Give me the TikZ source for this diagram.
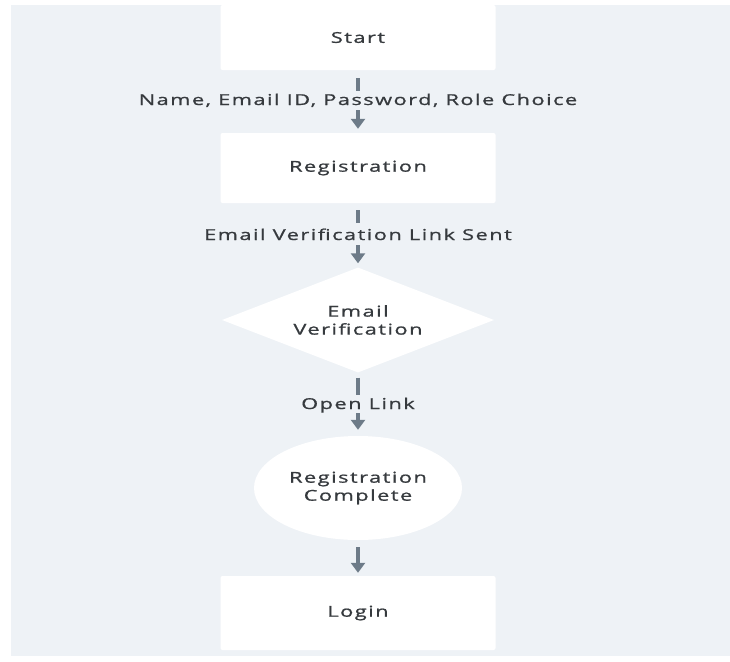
\documentclass[tikz,border=0pt]{standalone}
\usepackage{fontspec}
\setmainfont{Open Sans}[LetterSpace=10, FakeStretch=1.45, FakeBold=1]
\usetikzlibrary{shapes.geometric,arrows.meta}
\definecolor{bg}{HTML}{EEF2F6}
\definecolor{arr}{HTML}{6D7B88}
\definecolor{txt}{HTML}{363A3E}
\begin{document}
\begin{tikzpicture}[x=1pt,y=-1pt,
  every node/.style={text=txt, font=\fontsize{15}{18}\selectfont, align=center},
  box/.style={fill=white, minimum width=275pt, inner sep=0pt, rounded corners=2pt},
  lbl/.style={inner sep=0pt, text height=10pt, text depth=3pt, anchor=base},
  conn/.style={draw=arr, line width=4pt},
  arrow/.style={conn, -{Triangle[length=10pt,width=14pt]}}]
\fill[white] (0,0) rectangle (730,661);
\fill[bg] (11,5) rectangle (730,656);
\useasboundingbox (0,0) rectangle (730,661);

\node[box, minimum height=65pt] (start) at (358,37.5) {Start};
\node[lbl] (lab1) at (358,105) {Name, Email ID, Password, Role Choice};
\node[box, minimum height=70pt] (reg) at (358,168) {Registration};
\node[lbl] (lab2) at (358,240) {Email Verification Link Sent};
\node[diamond, fill=white, minimum width=272pt, minimum height=105pt, inner sep=0pt, aspect=2.6] (ver) at (358,320) {Email\\Verification};
\node[lbl] (lab3) at (358,409) {Open Link};
\node[ellipse, fill=white, minimum width=208pt, minimum height=104pt, inner sep=0pt] (comp) at (358,488) {Registration\\Complete};
\node[box, minimum height=74pt] (login) at (358,613) {Login};

\draw[conn, shorten <=8pt, shorten >=4pt] (start.south) -- (lab1.north);
\draw[arrow, shorten <=2pt, shorten >=4pt] (lab1.south) -- (reg.north);
\draw[conn, shorten <=7pt, shorten >=7pt] (reg.south) -- (lab2.north);
\draw[arrow, shorten <=2pt, shorten >=4pt] (lab2.south) -- (ver.north);
\draw[conn, shorten <=5pt, shorten >=4pt] (ver.south) -- (lab3.north);
\draw[arrow, shorten <=1pt, shorten >=6pt] (lab3.south) -- (comp.north);
\draw[arrow, shorten <=7pt, shorten >=3pt] (comp.south) -- (login.north);
\end{tikzpicture}
\end{document}
